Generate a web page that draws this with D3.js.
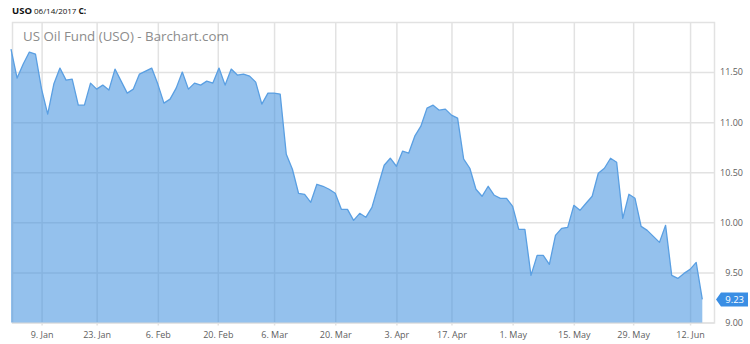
<!DOCTYPE html>
<html>
<head>
<meta charset="utf-8">
<script src="https://cdn.jsdelivr.net/npm/d3@7"></script>
<style>
  body { margin: 0; background: #fff; font-family: 'Open Sans', sans-serif; }
</style>
</head>
<body>
<div id="chart"></div>
<script>
// USO daily closes, one per trading day (30 Dec 2016 -> 14 Jun 2017)
const closes = [
  11.73, 11.44, 11.58, 11.70, 11.68, 11.33, 11.08, 11.38, 11.54, 11.42,
  11.43, 11.17, 11.17, 11.39, 11.33, 11.37, 11.32, 11.53, 11.41, 11.29,
  11.33, 11.48, 11.51, 11.54, 11.38, 11.19, 11.23, 11.34, 11.50, 11.33,
  11.39, 11.37, 11.41, 11.39, 11.54, 11.37, 11.53, 11.47, 11.48, 11.46,
  11.40, 11.18, 11.29, 11.29, 11.28, 10.68, 10.53, 10.29, 10.28, 10.20,
  10.38, 10.36, 10.33, 10.29, 10.13, 10.13, 10.02, 10.09, 10.05, 10.15,
  10.36, 10.57, 10.64, 10.56, 10.71, 10.69, 10.86, 10.96, 11.14, 11.17,
  11.12, 11.13, 11.07, 11.04, 10.63, 10.54, 10.33, 10.26, 10.36, 10.27,
  10.24, 10.24, 10.16, 9.93, 9.93, 9.47, 9.67, 9.67, 9.58, 9.87,
  9.94, 9.95, 10.17, 10.12, 10.19, 10.26, 10.49, 10.54, 10.64, 10.60,
  10.04, 10.28, 10.24, 9.96, 9.92, 9.86, 9.80, 9.97, 9.47, 9.44,
  9.49, 9.53, 9.60, 9.23
];

// x axis labels and the trading-day slot they sit on (holidays fall between two slots)
const tickLabels = ['9. Jan', '23. Jan', '6. Feb', '20. Feb', '6. Mar', '20. Mar',
                    '3. Apr', '17. Apr', '1. May', '15. May', '29. May', '12. Jun'];
const tickDays = [5, 14, 24, 33.8, 43, 53, 63, 72, 82, 92, 101.7, 111];

// y axis
const priceTicks = [9.00, 9.50, 10.00, 10.50, 11.00, 11.50];
const priceDomain = [9, 12];

const symbol = 'USO';
const quoteDate = '06/14/2017';
const watermark = 'US Oil Fund (USO) - Barchart.com';

const width = 750;
const height = 344;
const plot = { left: 12, right: 714, top: 22, bottom: 322.5 };

function drawChart() {
    const svg = d3.select('#chart')
        .append('svg')
        .attr('width', width)
        .attr('height', height);

    const x = d3.scaleLinear()
        .domain([0, closes.length - 1])
        .range([11, 702.3]);

    const y = d3.scaleLinear()
        .domain(priceDomain)
        .range([plot.bottom, plot.top]);

    // header line
    const header = svg.append('text')
        .attr('x', 12)
        .attr('y', 13.5)
        .attr('fill', '#111');
    header.append('tspan').attr('font-weight', 700).style('font-size', '9.5px').text(symbol);
    header.append('tspan').attr('dx', 2).style('font-size', '8px').text(quoteDate);
    header.append('tspan').attr('dx', 2).attr('font-weight', 700).style('font-size', '8.5px').text('C:');

    // frame
    svg.append('rect')
        .attr('x', plot.left + 0.5)
        .attr('y', plot.top + 0.5)
        .attr('width', plot.right - plot.left)
        .attr('height', plot.bottom - plot.top)
        .attr('fill', 'none')
        .attr('stroke', '#e2e2e2')
        .attr('stroke-width', 1.5);

    // horizontal grid + right labels
    svg.append('g')
        .attr('transform', `translate(${plot.right},0)`)
        .call(d3.axisRight(y)
            .tickValues(priceTicks)
            .tickFormat(d3.format('.2f'))
            .tickSize(-(plot.right - plot.left))
            .tickPadding(8))
        .call(g => g.select('.domain').remove())
        .call(g => g.selectAll('line').attr('stroke', '#e2e2e2').attr('stroke-width', 1.5))
        .call(g => g.selectAll('text')
            .attr('x', 29)
            .attr('text-anchor', 'end')
            .attr('fill', '#606060')
            .style('font-family', 'Open Sans')
            .style('font-size', '9px'));

    // vertical grid + bottom labels
    svg.append('g')
        .attr('transform', `translate(0,${plot.bottom + 3})`)
        .call(d3.axisBottom(x)
            .tickValues(tickDays)
            .tickFormat((d, i) => tickLabels[i])
            .tickSize(-(plot.bottom - plot.top + 3))
            .tickPadding(6))
        .call(g => g.select('.domain').remove())
        .call(g => g.selectAll('line').attr('stroke', '#e2e2e2').attr('stroke-width', 1.5))
        .call(g => g.selectAll('text')
            .attr('fill', '#606060')
            .style('font-family', 'Open Sans')
            .style('font-size', '9px'));

    // watermark title
    svg.append('text')
        .attr('x', 23)
        .attr('y', 41)
        .attr('fill', '#8c8c8c')
        .style('font-size', '13.3px')
        .text(watermark);

    // price area
    const area = d3.area()
        .x((d, i) => x(i))
        .y0(y(priceDomain[0]))
        .y1(d => y(d));

    const line = d3.line()
        .x((d, i) => x(i))
        .y(d => y(d));

    svg.append('path')
        .datum(closes)
        .attr('d', area)
        .attr('fill', 'rgb(60,142,222)')
        .attr('fill-opacity', 0.55);

    svg.append('path')
        .datum(closes)
        .attr('d', line)
        .attr('fill', 'none')
        .attr('stroke', '#5a9fe2')
        .attr('stroke-width', 1.3)
        .attr('stroke-linejoin', 'round');

    // last price flag
    const last = closes[closes.length - 1];
    const ly = y(last);
    const flag = svg.append('g');
    flag.append('path')
        .attr('d', `M716,${ly} L721,${ly - 7} L748,${ly - 7} L748,${ly + 7} L721,${ly + 7} Z`)
        .attr('fill', '#3a8ee4');
    flag.append('text')
        .attr('x', 744)
        .attr('y', ly + 3.5)
        .attr('text-anchor', 'end')
        .attr('fill', '#fff')
        .style('font-size', '9.5px')
        .text(d3.format('.2f')(last));
}

document.addEventListener('DOMContentLoaded', () => {
    drawChart();
});
</script>
</body>
</html>
